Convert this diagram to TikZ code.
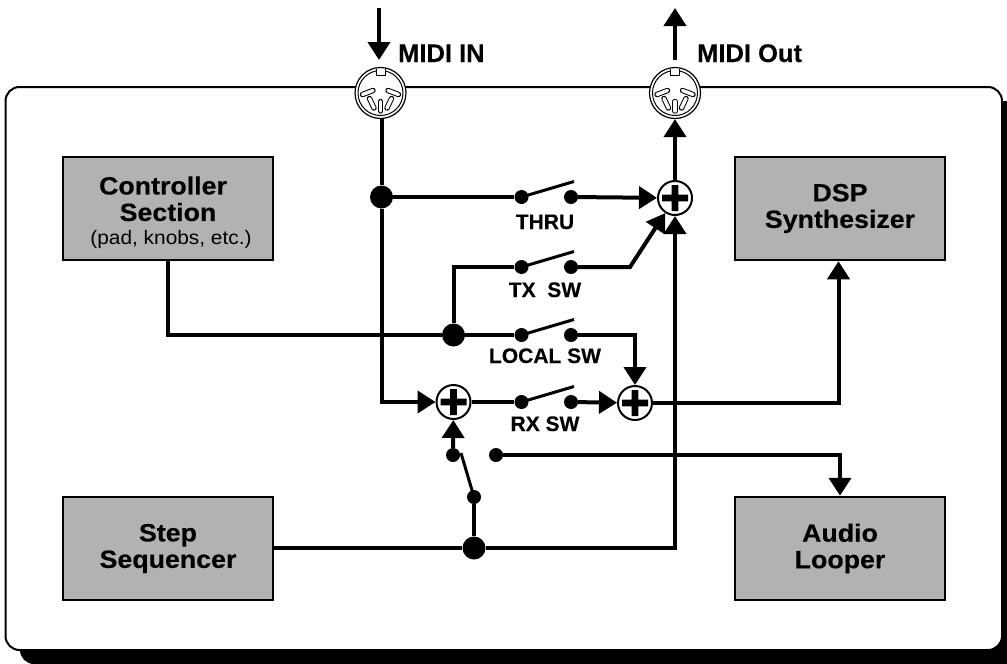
\documentclass[tikz,border=0pt]{standalone}
\usepackage{fontspec}
\setmainfont[BoldFeatures={FakeBold=0.25}]{Liberation Sans}
\newfontfamily\widefont[FakeStretch=1.07,BoldFeatures={FakeBold=0.25}]{Liberation Sans}
\usetikzlibrary{arrows.meta,positioning,calc}
\definecolor{BlockGrey}{RGB}{178,178,178}

\begin{document}
\begin{tikzpicture}[
      x=1pt,y=-1pt,
      panel/.style={draw,line width=2pt,fill=white,rounded corners=14pt},
      block/.style={draw,line width=2.5pt,fill=BlockGrey,minimum width=210pt,minimum height=103pt,align=center,font=\widefont\fontsize{25}{26.5}\selectfont\bfseries},
      wire/.style={line width=4pt},
      flow/.style={line width=4pt,-{Triangle[length=18pt,width=22pt]}},
      arm/.style={line width=3pt},
      dot/.style={circle,fill=black,minimum size=23pt,inner sep=0pt},
      contact/.style={circle,fill=black,minimum size=14pt,inner sep=0pt},
      mixer/.style={circle,draw,line width=2pt,fill=white,minimum size=34pt,inner sep=0pt,
        path picture={\fill[black,shift={(path picture bounding box.center)}] (-13,-3.4) rectangle (13,3.4) (-3.4,-13) rectangle (3.4,13);}},
      pin/.style={line width=1pt,double=white,double distance=3.4pt,line cap=round},
      midijack/.style={circle,draw,line width=1.2pt,fill=white,minimum size=51pt,inner sep=0pt,
        path picture={\begin{scope}[shift={(path picture bounding box.center)}]
          \draw[line width=1pt] (0,0) circle (22.5pt);
          \draw[line width=1pt,fill=white] (-4.5,-24)--(-4.5,-17.5)--(4.5,-17.5)--(4.5,-24);
          \foreach \sgn in {-1,1} {
            \draw[pin] (\sgn*18,1.5)--(\sgn*7.5,-2.5);
            \draw[pin] (\sgn*11,5.5)--(\sgn*6.5,15);
          }
          \draw[pin] (0,8.5)--(0,18);
        \end{scope}}},
      swlabel/.style={font=\fontsize{21}{22}\selectfont\bfseries,anchor=base,inner sep=0pt},
      midilabel/.style={font=\fontsize{25.5}{26}\selectfont\bfseries,anchor=base west,inner sep=0pt}
    ]
    \useasboundingbox (0,0) rectangle (1007,664);
    \fill (1007,101) -- (1007,664) [rounded corners=14pt] -- (20,664) [sharp corners] -- (20,101) -- cycle;
    \draw[panel] (5.5,87) rectangle (1002,650);

    \node[block] (controller) at (168,208.5) {\rule{0pt}{26pt}Controller\hspace*{10pt}\\Section\\[-3pt]\hspace*{6pt}{\fontsize{19.5}{22}\mdseries\selectfont (pad, knobs, etc.)}};
    \node[block] (synth) at (840,208.5) {DSP\\Synthesizer};
    \node[block] (sequencer) at (168,548.5) {Step\\Sequencer};
    \node[block] (looper) at (840,548.5) {Audio\\Looper};

    \node[midijack] (midiin) at (380.5,93) {};
    \node[midijack] (midiout) at (675,93) {};
    \coordinate (inend) at (379,8);
    \coordinate (intip) at (379,60);
    \coordinate (outend) at (675,60);
    \coordinate (outtip) at (675,8);
    \node[midilabel] (inlabel) at (398,62) {MIDI IN};
    \node[midilabel] (outlabel) at (697,62) {MIDI Out};

    \node[dot] (junctionthru) at (381.5,197) {};
    \node[dot] (junctionlocal) at (453.5,335) {};
    \node[dot] (junctionstep) at (474,548) {};
    \node[mixer] (mixthru) at (675,198) {};
    \node[mixer] (mixin) at (453.5,402) {};
    \node[mixer] (mixrx) at (635,403) {};

    \foreach \sw/\ypos/\txt/\base in {thru/197/THRU/229,tx/267/TX\ \ SW/297,local/335/LOCAL SW/363,rx/402/RX SW/431} {
      \node[contact] (\sw a) at (521.5,\ypos) {};
      \node[contact] (\sw b) at (571,\ypos) {};
      \coordinate (\sw tip) at (574,\ypos-15.5);
      \draw[arm] (\sw a.center) -- (\sw tip);
      \node[swlabel] (\sw label) at (545,\base) {\txt};
    }
    \node[contact] (seqa) at (453,455) {};
    \node[contact] (seqb) at (474,497) {};
    \node[contact] (seqc) at (496,455) {};
    \coordinate (seqtip) at (461,453);
    \draw[arm] (seqb.center) -- (seqtip);

    \coordinate (rxcorner) at (381.5,402);
    \coordinate (txcorner) at (453.5,267);
    \coordinate (txbend) at (630,267);
    \coordinate (localcorner) at (168,335);
    \coordinate (localdrop) at (635,335);
    \coordinate (busstart) at (675,548);
    \coordinate (synthcorner) at (838.5,403);
    \coordinate (loopcorner) at (840,455);

    \draw[flow] (inend) -- (intip);
    \draw[flow] (outend) -- (outtip);
    \draw[flow] (mixthru) -- (midiout);
    \draw[wire] (midiin.south -| junctionthru) -- (junctionthru);
    \draw[flow] (junctionthru) -- (rxcorner) -- (mixin);
    \draw[wire] (junctionthru) -- (thrua);
    \draw[flow] (thrub) -- (mixthru);
    \draw[wire] (junctionlocal) -- (txcorner) -- (txa);
    \draw[flow] (txb) -- (txbend) -- (mixthru);
    \draw[wire] (controller.south) -- (localcorner) -- (junctionlocal);
    \draw[wire] (junctionlocal) -- (locala);
    \draw[flow] (localb) -- (localdrop) -- (mixrx);
    \draw[wire] (mixin) -- (rxa);
    \draw[flow] (rxb) -- (mixrx);
    \draw[flow] (mixrx) -- (synthcorner) -- (synth.south -| synthcorner);
    \draw[flow] (seqa) -- (mixin);
    \draw[wire] (seqb) -- (junctionstep);
    \draw[flow] (seqc) -- (loopcorner) -- (looper.north -| loopcorner);
    \draw[wire] (sequencer.east |- junctionstep) -- (junctionstep);
    \draw[flow] (junctionstep) -- (busstart) -- (mixthru);
  \end{tikzpicture}
\end{document}
